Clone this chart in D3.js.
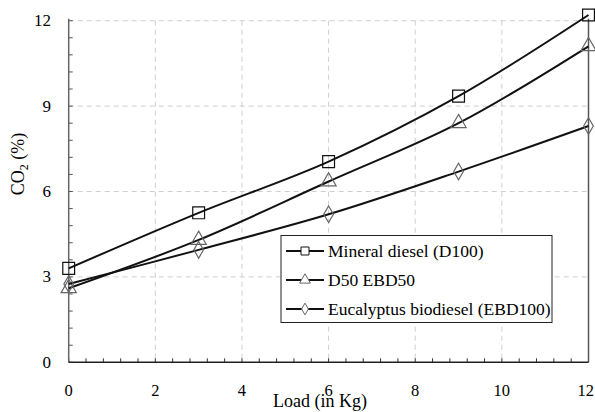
<!DOCTYPE html>
<html>
<head>
<meta charset="utf-8">
<script src="https://cdn.jsdelivr.net/npm/d3@7"></script>
<style>
  body { margin: 0; background: #fff; }
</style>
</head>
<body>
<script>
var loads = [0, 3, 6, 9, 12];
var d100 = [3.3, 5.25, 7.05, 9.35, 12.2];
var d50 = [2.6, 4.3, 6.35, 8.4, 11.1];
var ebd100 = [2.75, 3.95, 5.2, 6.7, 8.3];
var seriesNames = ['Mineral diesel (D100)', 'D50 EBD50', 'Eucalyptus biodiesel (EBD100)'];
var xTicks = [0, 2, 4, 6, 8, 10, 12];
var yTicks = [0, 3, 6, 9, 12];

var width = 595, height = 412;
var pLeft = 68.7, pRight = 588.5, pTop = 20.7, pBottom = 362.3;

var svg = d3.select('body').append('svg').attr('width', width).attr('height', height)
  .attr('font-family', "'Liberation Serif', 'Times New Roman', serif");

var x = d3.scaleLinear().domain([0, 12]).range([pLeft, pRight]);
var y = d3.scaleLinear().domain([0, 12]).range([pBottom, pTop]);

// dashed grid
svg.append('g').selectAll('line').data(xTicks.slice(1, -1)).enter().append('line')
  .attr('x1', d => x(d)).attr('x2', d => x(d)).attr('y1', pTop).attr('y2', pBottom)
  .attr('stroke', '#cfcfcf').attr('stroke-dasharray', '5,4');
svg.append('g').selectAll('line').data(yTicks.slice(1)).enter().append('line')
  .attr('x1', pLeft).attr('x2', pRight).attr('y1', d => y(d)).attr('y2', d => y(d))
  .attr('stroke', '#cfcfcf').attr('stroke-dasharray', '5,4');

// minor ticks (inside)
var xMinor = d3.range(0, 12.001, 0.4);
var yMinor = d3.range(0, 12.001, 0.6);
svg.append('g').selectAll('line').data(xMinor).enter().append('line')
  .attr('x1', d => x(d)).attr('x2', d => x(d)).attr('y1', pBottom).attr('y2', pBottom - 4)
  .attr('stroke', '#333');
svg.append('g').selectAll('line').data(yMinor).enter().append('line')
  .attr('x1', pLeft).attr('x2', pLeft + 4).attr('y1', d => y(d)).attr('y2', d => y(d))
  .attr('stroke', '#555');

// frame
svg.append('line').attr('x1', pLeft).attr('x2', pLeft).attr('y1', pTop - 2).attr('y2', pBottom)
  .attr('stroke', '#666').attr('stroke-width', 1.5);
svg.append('line').attr('x1', pRight).attr('x2', pRight).attr('y1', pTop - 2).attr('y2', pBottom)
  .attr('stroke', '#555').attr('stroke-width', 1.5);
svg.append('line').attr('x1', pLeft).attr('x2', pRight).attr('y1', pBottom).attr('y2', pBottom)
  .attr('stroke', '#222').attr('stroke-width', 1.5);

// tick labels (last one held inside the page edge)
svg.append('g').selectAll('text').data(xTicks).enter().append('text')
  .attr('x', (d, i) => i === xTicks.length - 1 ? width - 1 : x(d))
  .attr('y', 396)
  .attr('text-anchor', (d, i) => i === xTicks.length - 1 ? 'end' : 'middle')
  .attr('font-size', 16.5).text(d => d);
svg.append('g').selectAll('text').data(yTicks).enter().append('text')
  .attr('x', 51).attr('y', d => y(d) + 5.5).attr('text-anchor', 'end')
  .attr('font-size', 17).text(d => d);

// axis titles
svg.append('text').attr('x', 320).attr('y', 407).attr('text-anchor', 'middle')
  .attr('font-size', 18).text('Load (in Kg)');
var yl = svg.append('text').attr('transform', 'translate(24,164) rotate(-90)')
  .attr('text-anchor', 'middle').attr('font-size', 18);
yl.append('tspan').text('CO');
yl.append('tspan').attr('font-size', 12).attr('dy', 4).text('2');
yl.append('tspan').attr('dy', -4).text(' (%)');

var series = [
  { name: seriesNames[0], values: d100, sym: d3.symbolSquare, size: 140, legSize: 64, color: '#111' },
  { name: seriesNames[1], values: d50, sym: d3.symbolTriangle, size: 100, legSize: 50, color: '#666' },
  { name: seriesNames[2], values: ebd100, sym: d3.symbolDiamond, size: 80, legSize: 40, color: '#666' }
];

var line = d3.line().x(d => x(d[0])).y(d => y(d[1])).curve(d3.curveCatmullRom.alpha(0.5));

series.forEach(function (s) {
  var pts = loads.map((l, i) => [l, s.values[i]]);
  svg.append('path').datum(pts).attr('d', line)
    .attr('fill', 'none').attr('stroke', '#111').attr('stroke-width', 2);
  svg.append('g').selectAll('path').data(pts).enter().append('path')
    .attr('transform', d => 'translate(' + x(d[0]) + ',' + y(d[1]) + ')')
    .attr('d', d3.symbol().type(s.sym).size(s.size))
    .attr('fill', 'none').attr('stroke', s.color).attr('stroke-width', 1.2);
});

// legend
var lg = svg.append('g');
lg.append('rect').attr('x', 281).attr('y', 235.5).attr('width', 271).attr('height', 87)
  .attr('fill', '#fff').attr('stroke', '#222').attr('stroke-width', 1);
series.forEach(function (s, i) {
  var cy = 251 + i * 29;
  lg.append('line').attr('x1', 286).attr('x2', 324).attr('y1', cy).attr('y2', cy)
    .attr('stroke', '#111').attr('stroke-width', 2);
  lg.append('path').attr('transform', 'translate(305,' + cy + ')')
    .attr('d', d3.symbol().type(s.sym).size(s.legSize))
    .attr('fill', '#fff').attr('stroke', s.color).attr('stroke-width', 1);
  lg.append('text').attr('x', 328).attr('y', cy + 5.5).attr('font-size', 17.5).text(s.name);
});
</script>
</body>
</html>
